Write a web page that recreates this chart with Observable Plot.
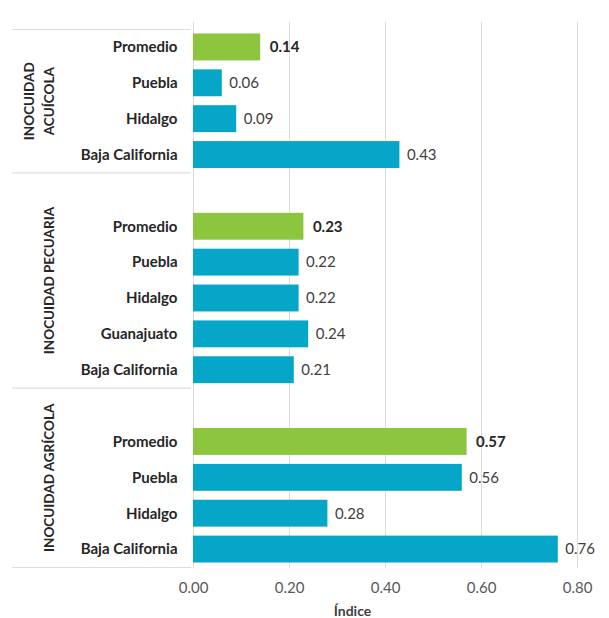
<!DOCTYPE html>
<html>
<head>
<meta charset="utf-8">
<script src="https://cdn.jsdelivr.net/npm/d3@7"></script>
<script src="https://cdn.jsdelivr.net/npm/@observablehq/plot@0.6"></script>
<style>
  html, body { margin: 0; padding: 0; background: #ffffff; }
  #chart svg { display: block; }
</style>
</head>
<body>
<div id="chart"></div>
<script>
// ---- Data ----
const groupNames = ["INOCUIDAD\nACUÍCOLA", "INOCUIDAD PECUARIA", "INOCUIDAD AGRÍCOLA"];

const acuicolaLabels = ["Promedio", "Puebla", "Hidalgo", "Baja California"];
const acuicolaValues = [0.14, 0.06, 0.09, 0.43];

const pecuariaLabels = ["Promedio", "Puebla", "Hidalgo", "Guanajuato", "Baja California"];
const pecuariaValues = [0.23, 0.22, 0.22, 0.24, 0.21];

const agricolaLabels = ["Promedio", "Puebla", "Hidalgo", "Baja California"];
const agricolaValues = [0.57, 0.56, 0.28, 0.76];

const xTicks = [0, 0.2, 0.4, 0.6, 0.8];
const xLabel = "Índice";

// ---- Build table ----
const groupDefs = [
  {name: groupNames[0], labels: acuicolaLabels, values: acuicolaValues},
  {name: groupNames[1], labels: pecuariaLabels, values: pecuariaValues},
  {name: groupNames[2], labels: agricolaLabels, values: agricolaValues}
];
const rows = [];
const groupInfo = [];
const boundaries = [-0.5];
let slot = 0;
groupDefs.forEach((g, gi) => {
  const first = slot;
  if (gi > 0) slot += 1; // empty slot above later groups
  g.labels.forEach((lab, i) => {
    rows.push({group: g.name, label: lab, value: g.values[i], slot, avg: lab === "Promedio"});
    slot++;
  });
  groupInfo.push({name: g.name, center: (first + slot - 1) / 2});
  boundaries.push(slot - 0.5);
});
const nSlots = slot;
const labelOf = new Map(rows.map(r => [r.slot, r.label]));

const BLUE = "#06a6c8";
const GREEN = "#8cc63f";
const W = 609, H = 618;
const mL = 193, mR = 32, mT = 22, mB = 50;
const fmt = d3.format(".2f");

const chart = Plot.plot({
  width: W,
  height: H,
  marginLeft: mL,
  marginRight: mR,
  marginTop: mT,
  marginBottom: mB,
  style: {fontFamily: "Lato, sans-serif", background: "#ffffff", overflow: "visible"},
  x: {domain: [0, 0.8], label: null},
  y: {domain: [-0.5, nSlots - 0.5], reverse: true, insetTop: 7, insetBottom: 1, label: null},
  marks: [
    Plot.gridX(xTicks, {stroke: "#dcdcdc", strokeOpacity: 1, strokeWidth: 1}),
    Plot.ruleY(boundaries, {stroke: "#dedede", strokeWidth: 1.2, insetLeft: -181, insetRight: W - mL - mR + 2}),
    Plot.rect(rows, {
      x1: 0, x2: "value",
      y1: d => d.slot - 0.375, y2: d => d.slot + 0.375,
      fill: d => d.avg ? GREEN : BLUE
    }),
    Plot.text(rows.filter(d => !d.avg), {
      x: "value", y: "slot", text: d => fmt(d.value),
      textAnchor: "start", dx: 7, fill: "#404040", fontSize: 15
    }),
    Plot.text(rows.filter(d => d.avg), {
      x: "value", y: "slot", text: d => fmt(d.value),
      textAnchor: "start", dx: 9, fill: "#262626", fontSize: 15, fontWeight: "bold"
    }),
    Plot.axisY(rows.map(d => d.slot), {
      tickFormat: s => labelOf.get(s) ?? "",
      tickSize: 0, tickPadding: 16, fontSize: 15, fontWeight: "bold",
      fill: "#262626", label: null
    }),
    Plot.axisX(xTicks, {
      tickFormat: fmt, tickSize: 0, tickPadding: 14, fontSize: 15,
      fill: "#595959", label: null
    }),
    Plot.text(groupInfo, {
      y: "center", text: "name", frameAnchor: "left", dx: 53 - mL,
      rotate: -90, textAnchor: "middle", lineAnchor: "bottom", lineHeight: 1.45,
      fontSize: 13.5, fontWeight: "bold", fill: "#262626"
    }),
    Plot.text([xLabel], {
      text: d => d, frameAnchor: "bottom", dx: -33, dy: 47,
      fontSize: 14, fontWeight: "bold", fill: "#404040"
    })
  ]
});
document.getElementById("chart").appendChild(chart);
</script>
</body>
</html>
